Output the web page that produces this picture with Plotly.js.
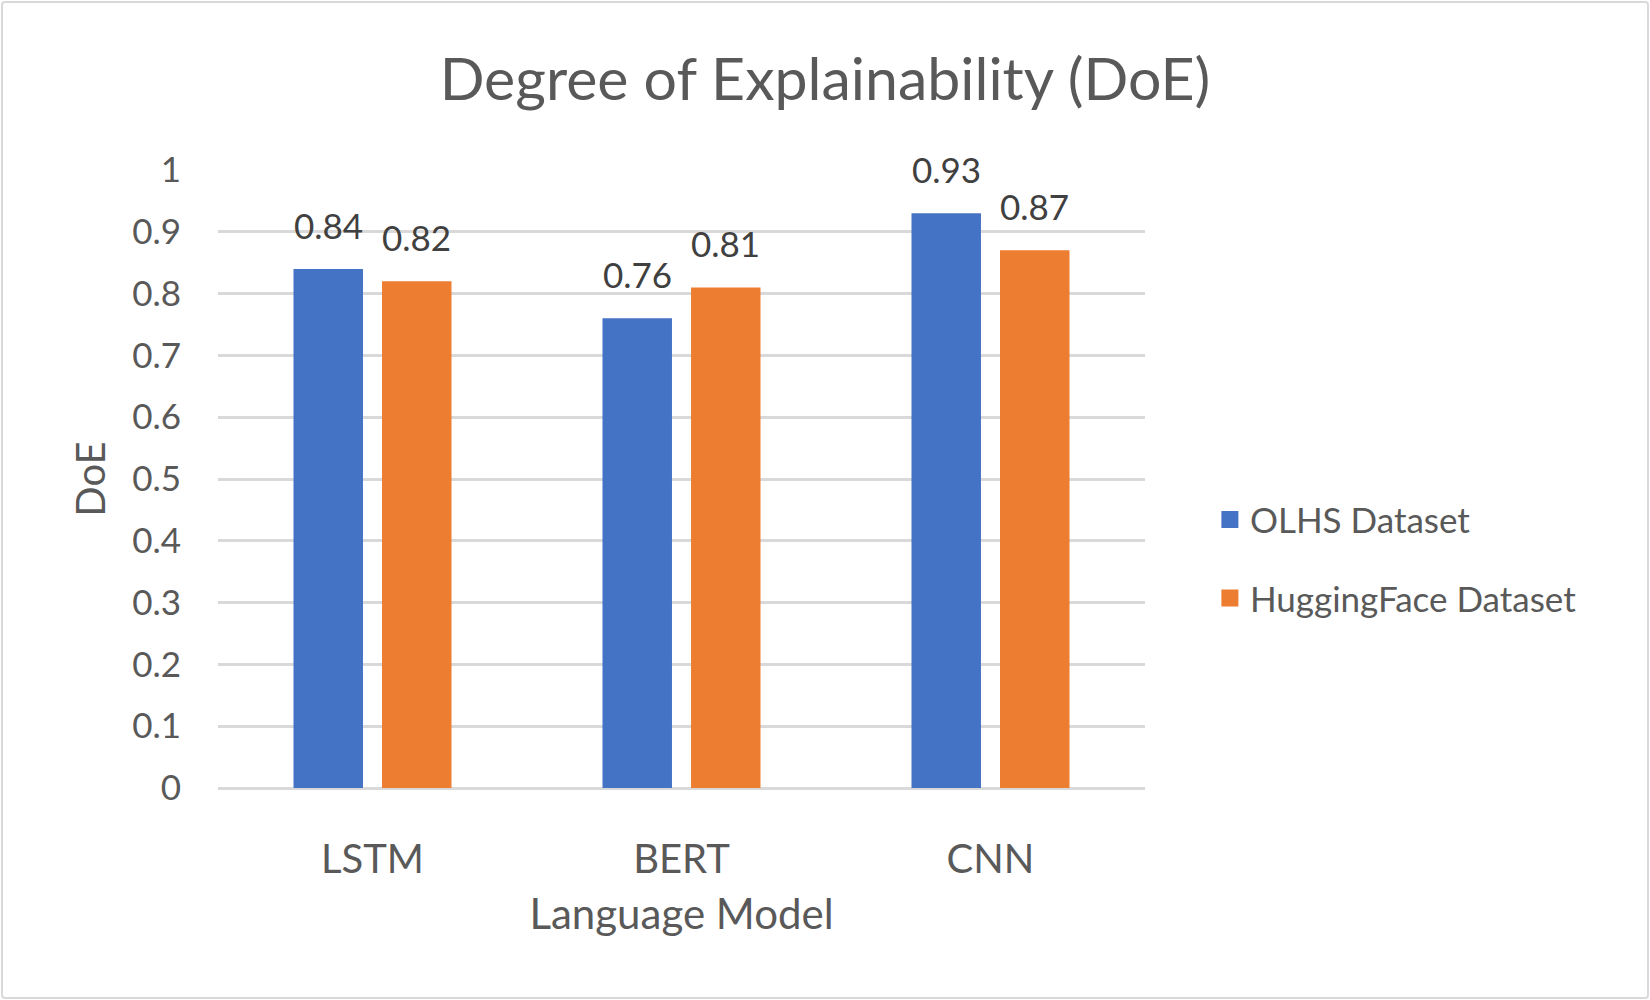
<!DOCTYPE html>
<html>
<head>
<meta charset="utf-8">
<script src="https://cdn.plot.ly/plotly-3.0.1.min.js"></script>
<style>
  html, body { margin: 0; padding: 0; background: #ffffff; }
  #wrap { position: relative; width: 1650px; height: 1000px; }
  #chart { width: 1650px; height: 1000px; }
  #frame { position: absolute; left: 1px; top: 1px; width: 1644px; height: 994px;
           border: 2.5px solid #d9d9d9; border-radius: 4px; pointer-events: none; }
</style>
</head>
<body>
<div id="wrap"><div id="chart"></div><div id="frame"></div></div>
<script>
const categories = ["LSTM", "BERT", "CNN"];
const seriesNames = ["OLHS Dataset", "HuggingFace Dataset"];
const olhsValues = [0.84, 0.76, 0.93];
const huggingFaceValues = [0.82, 0.81, 0.87];
const yTickValues = [0, 0.1, 0.2, 0.3, 0.4, 0.5, 0.6, 0.7, 0.8, 0.9, 1];
const yTickLabels = ["0", "0.1", "0.2", "0.3", "0.4", "0.5", "0.6", "0.7", "0.8", "0.9", "1"];

const FONT = "Lato, 'Open Sans', sans-serif";
const colors = ["#4472C4", "#ED7D31"];
const allSeries = [olhsValues, huggingFaceValues];

const W = 1650, H = 1000;
const margin = { l: 218, r: 505, t: 170, b: 212 };
const plotW = W - margin.l - margin.r;
const bargap = 0.427;
const catW = plotW / categories.length;
const slotW = catW * (1 - bargap) / allSeries.length;

const traces = [];
allSeries.forEach((vals, i) => {
  traces.push({
    type: "bar",
    name: seriesNames[i],
    x: categories,
    y: vals,
    offsetgroup: "s" + i,
    marker: { color: colors[i] },
    legendgroup: "g" + i,
    showlegend: false,
    hoverinfo: "x+y+name"
  });
});
// legend-only entries (larger swatch), sharing the same offset groups
allSeries.forEach((vals, i) => {
  traces.push({
    type: "bar",
    name: seriesNames[i],
    x: [categories[0]],
    y: [null],
    offsetgroup: "s" + i,
    marker: { color: colors[i], line: { color: colors[i], width: 5 } },
    legendgroup: "g" + i,
    showlegend: true,
    hoverinfo: "skip"
  });
});

const annotations = [];
allSeries.forEach((vals, i) => {
  const shift = (i - (allSeries.length - 1) / 2) * slotW;
  vals.forEach((v, j) => {
    annotations.push({
      x: categories[j], y: v, xref: "x", yref: "y",
      text: v.toFixed(2), showarrow: false,
      xanchor: "center", yanchor: "bottom",
      xshift: shift, yshift: 21,
      font: { family: FONT, size: 35, color: "#404040" }
    });
  });
});

const layout = {
  width: W, height: H,
  margin: margin,
  paper_bgcolor: "#ffffff",
  plot_bgcolor: "#ffffff",
  font: { family: FONT, color: "#595959" },
  title: {
    text: "Degree of Explainability (DoE)",
    font: { family: FONT, size: 59, color: "#595959" },
    x: 0.5, xref: "container", xanchor: "center",
    y: 0.921, yref: "container", yanchor: "middle"
  },
  barmode: "group",
  bargap: bargap,
  bargroupgap: 0.215,
  xaxis: {
    type: "category",
    range: [-0.5, 2.5],
    showgrid: false,
    showline: false,
    zeroline: false,
    ticks: "",
    ticklabelstandoff: 44,
    tickfont: { family: FONT, size: 40, color: "#595959" },
    title: { text: "Language Model", standoff: 18,
             font: { family: FONT, size: 42, color: "#595959" } }
  },
  yaxis: {
    range: [0, 1],
    tickvals: yTickValues,
    ticktext: yTickLabels,
    showgrid: true,
    gridcolor: "#d9d9d9",
    gridwidth: 2.5,
    zeroline: true,
    zerolinecolor: "#d9d9d9",
    zerolinewidth: 2.5,
    showline: false,
    ticks: "",
    ticklabelstandoff: 36,
    tickfont: { family: FONT, size: 35, color: "#595959" },
    title: { text: "DoE", standoff: 14,
             font: { family: FONT, size: 40, color: "#595959" } }
  },
  showlegend: true,
  legend: {
    x: 1.070, xanchor: "left",
    y: 0.371, yanchor: "middle",
    font: { family: FONT, size: 35, color: "#595959" },
    tracegroupgap: 30,
    itemwidth: 30,
    bgcolor: "rgba(0,0,0,0)"
  },
  annotations: annotations
};

Plotly.newPlot("chart", traces, layout, { displayModeBar: false, responsive: false });
</script>
</body>
</html>
